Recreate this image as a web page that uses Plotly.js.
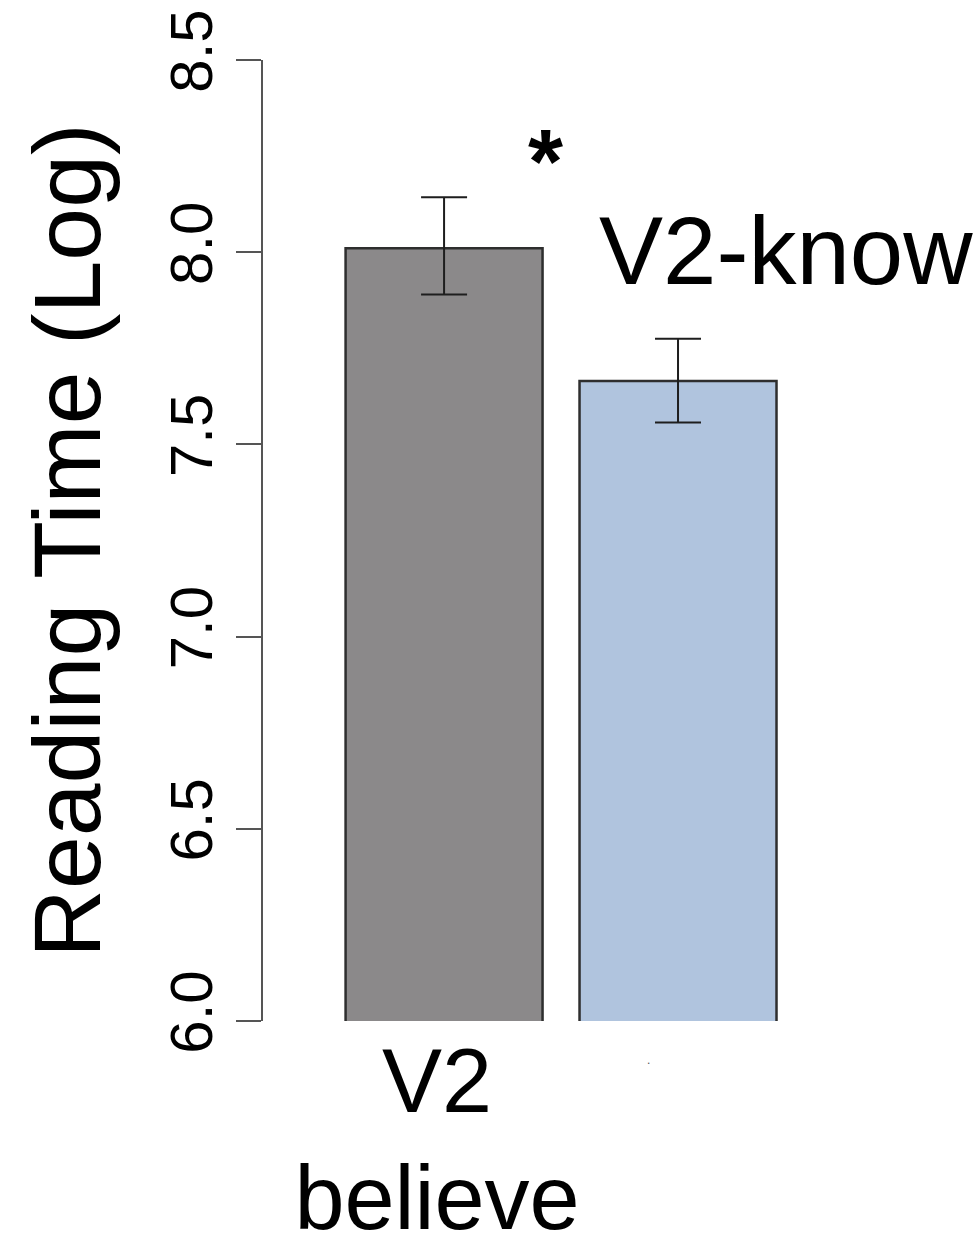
<!DOCTYPE html>
<html>
<head>
<meta charset="utf-8">
<script src="https://cdn.plot.ly/plotly-3.0.1.min.js"></script>
<style>html,body{margin:0;padding:0;background:#fff;}#chart{width:977px;height:1244px;}</style>
</head>
<body>
<div id="chart"></div>
<script>
// Data
const categories = ["V2<br>believe", "V2-know"];
const tickLabels = ["V2<br>believe", ""];
const meanLogRT = [8.01, 7.665];
const errPlus = [0.133, 0.11];
const errMinus = [0.12, 0.108];
const barColors = ["#8b898a", "#b0c4de"];
const yTickVals = [6.0, 6.5, 7.0, 7.5, 8.0, 8.5];
const yTickText = ["6.0", "6.5", "7.0", "7.5", "8.0", "8.5"];
const yTitle = "Reading Time (Log)";
const knowLabel = "V2-know";
const sigMark = "*";

const W = 977, H = 1244;
const mL = 263, mR = 0, mT = 60, mB = 223;
const plotW = W - mL - mR, plotH = H - mT - mB;
function px(x) { return (x - mL) / plotW; }
function py(y) { return (H - mB - y) / plotH; }

const trace = {
  type: "bar",
  x: categories,
  y: meanLogRT,
  marker: { color: barColors, line: { color: "#2e2e2e", width: 2.5 } },
  error_y: {
    type: "data",
    symmetric: false,
    array: errPlus,
    arrayminus: errMinus,
    color: "#1e1e1e",
    thickness: 2,
    width: 23
  },
  hoverinfo: "none",
  showlegend: false
};

const layout = {
  width: W, height: H,
  margin: { l: mL, r: mR, t: mT, b: mB, pad: 0 },
  paper_bgcolor: "#ffffff",
  plot_bgcolor: "#ffffff",
  bargap: 0.158,
  font: { family: "Liberation Sans, Arial, Helvetica, sans-serif", color: "#000" },
  xaxis: {
    type: "category",
    range: [-0.774, 2.278],
    tickvals: categories,
    ticktext: tickLabels,
    showline: false, showgrid: false, zeroline: false,
    ticks: "",
    tickfont: { size: 90, family: "Liberation Sans, Arial, sans-serif", color: "#000" },
    ticklabelstandoff: 0,
    ticklabelshift: -7,
    automargin: false,
    fixedrange: true
  },
  yaxis: {
    range: [6, 8.5],
    tickvals: yTickVals,
    ticktext: yTickText,
    tickangle: -90,
    ticks: "outside", ticklen: 25, tickwidth: 2, tickcolor: "#555",
    showline: true, linecolor: "#555", linewidth: 2,
    showgrid: false, zeroline: false,
    tickfont: { size: 60, family: "Liberation Sans, Arial, sans-serif", color: "#000" },
    ticklabelstandoff: 0,
    title: { text: yTitle, font: { size: 95, family: "Liberation Sans, Arial, sans-serif", color: "#000" }, standoff: 26 },
    automargin: false,
    fixedrange: true
  },
  annotations: [
    {
      text: knowLabel, xref: "paper", yref: "paper",
      x: px(786), y: py(251), xanchor: "center", yanchor: "middle",
      showarrow: false,
      font: { size: 96, family: "Liberation Sans, Arial, sans-serif", color: "#000" }
    },
    {
      text: "<b>" + sigMark + "</b>", xref: "paper", yref: "paper",
      x: px(545), y: py(162), xanchor: "center", yanchor: "middle",
      showarrow: false,
      font: { size: 90, family: "Liberation Sans, Arial, sans-serif", color: "#000" }
    },
    {
      text: ".", xref: "paper", yref: "paper",
      x: px(648), y: py(1060), xanchor: "center", yanchor: "middle",
      showarrow: false,
      font: { size: 12, family: "Liberation Sans, Arial, sans-serif", color: "#555" }
    }
  ]
};

Plotly.newPlot("chart", [trace], layout, { staticPlot: true, displayModeBar: false });
</script>
</body>
</html>
